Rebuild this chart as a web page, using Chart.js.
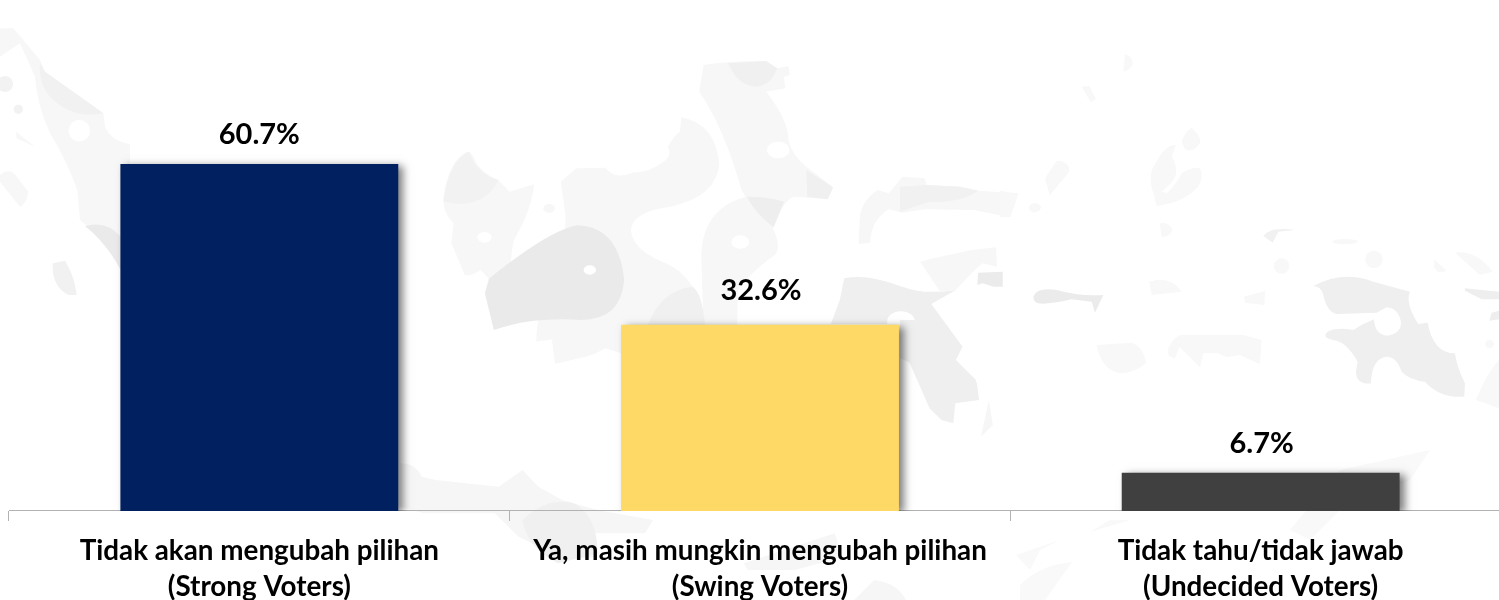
<!DOCTYPE html>
<html>
<head>
<meta charset="utf-8">
<style>
  html, body { margin: 0; padding: 0; background: #fff; overflow: hidden; }
  #wrap { position: relative; width: 1499px; height: 600px; overflow: hidden; }
  #map { position: absolute; left: 0; top: 0; }
  #chart { position: absolute; left: 0; top: 0; }
</style>
<script src="https://cdn.jsdelivr.net/npm/chart.js@4"></script>
</head>
<body>
<div id="wrap">
  <!-- faint map watermark behind the chart -->
  <svg id="map" width="1499" height="600" viewBox="0 0 1499 600">
    <g transform="scale(.3333)" fill="#f7f7f7">
      <path d="M0 85 L40 85 L120 180 L135 215 L310 340 L315 380 Q335 425 390 432 L390 900 L362 800 Q320 720 240 660 L232 570 Q200 480 150 400 Q110 310 105 230 L60 130 Q30 150 0 170 Z"/>
      <path d="M120 190 L135 215 L310 340 Q220 360 150 290 Q115 250 120 190 Z" fill="#f1f1f1"/>
      <path d="M255 678 Q320 660 362 710 L362 810 Q320 730 255 678 Z" fill="#eaeaea"/>
      <circle cx="15" cy="252" r="24" fill="#f2f2f2"/><circle cx="55" cy="328" r="14" fill="#f2f2f2"/>
      <circle cx="238" cy="392" r="32" fill="#fff"/>
      <path d="M48 395 L105 440 L50 415 Z"/>
      <path d="M0 525 Q30 500 50 530 L85 575 Q80 610 60 620 L0 545 Z"/>
      <path d="M158 790 L195 782 Q225 830 230 885 L205 885 Q155 860 158 790 Z" fill="#f1f1f1"/>
    </g>
    <g transform="translate(380 0) scale(.4464 .3333)" fill="#f7f7f7">
      <path d="M195 455 Q210 460 215 490 Q235 525 265 540 L290 575 L345 553 Q340 630 300 720 Q285 800 305 890 Q290 940 245 925 L235 880 L243 835 L225 810 Q205 830 190 825 L160 730 L165 670 Q140 640 142 590 Q155 480 195 455 Z"/>
      <path d="M200 455 Q215 520 265 540 Q240 610 180 612 L142 605 Q155 480 200 455 Z" fill="#f2f2f2"/>
      <path d="M440 505 L505 503 Q525 540 565 518 Q610 515 635 485 Q655 470 645 440 Q660 405 672 395 L675 352 Q750 370 760 490 Q755 590 650 620 Q565 635 562 690 Q565 750 640 790 Q700 825 722 930 L730 1020 L540 1060 L505 1045 L480 1062 L460 1070 L392 1092 L385 1018 L350 1025 Q350 950 380 850 Q420 720 415 640 L405 545 Z"/>
      <path d="M442 676 Q535 680 547 840 Q540 960 450 960 Q340 950 255 990 L235 880 L245 835 Q380 690 442 676 Z" fill="#eaeaea"/>
      <path d="M725 195 Q780 183 865 183 L890 205 L915 198 L918 225 L905 230 L908 265 L865 275 Q915 360 915 420 Q925 470 955 500 L1015 562 L1003 598 L930 590 Q905 595 880 680 Q830 620 810 570 Q770 380 715 275 Z"/>
      <path d="M780 190 L865 183 L890 205 Q875 260 840 260 Q800 255 780 190 Z" fill="#f0f0f0"/>
      <path d="M955 510 L1015 562 L1003 598 L957 590 Z" fill="#f0f0f0"/>
      <path d="M840 585 Q880 590 905 605 Q880 650 880 685 Q900 740 885 765 Q835 810 802 870 L800 975 L725 975 Q720 800 720 760 Q725 610 840 585 Z"/>
      <path d="M822 590 Q870 590 905 605 L882 682 Q840 640 822 590 Z" fill="#eeeeee"/>
      <path d="M600 975 Q630 870 700 860 Q722 880 728 975 Z" fill="#f0f0f0"/>
      <path d="M1040 835 Q1090 820 1170 860 Q1220 885 1290 870 L1235 912 L1305 1040 L1290 1080 L1335 1140 L1340 1200 L1225 1200 L1220 1145 L1190 1090 L1165 1075 L1165 972 L1010 972 L1030 900 Z" fill="#efefef"/>
      <path d="M1115 570 L1140 580 L1170 530 L1220 535 L1225 555 L1300 560 L1340 572 L1430 580 L1412 652 L1330 630 L1220 628 L1170 638 L1140 628 Q1100 660 1098 728 L1072 732 L1075 650 Q1080 600 1115 570 Z"/>
      <path d="M1225 555 L1300 560 L1340 572 Q1300 610 1230 605 L1165 635 L1165 560 Z" fill="#f1f1f1"/>
      <path d="M1210 785 L1240 775 L1325 750 L1380 742 L1382 800 L1350 790 Q1330 810 1290 870 L1255 875 Z"/>
      <path d="M1340 818 L1395 815 L1395 860 L1375 860 L1350 850 L1338 855 Z" fill="#ebebeb"/>
      <path d="M1500 530 L1520 482 Q1545 490 1540 520 L1500 585 L1490 535 Z"/>
      <circle cx="234" cy="712" r="16" fill="#fff"/><circle cx="470" cy="810" r="14" fill="#fff"/>
      <circle cx="668" cy="688" r="17" fill="#fff"/><circle cx="892" cy="450" r="25" fill="#fff"/>
      <circle cx="807" cy="726" r="20" fill="#fff"/><circle cx="1167" cy="965" r="31" fill="#fff"/>
      <circle cx="379" cy="625" r="13"/><circle cx="1467" cy="623" r="13"/>
    </g>
    <g transform="translate(1000 30) scale(.3333)" fill="#f8f8f8">
      <path d="M370 125 L375 72 Q400 80 398 105 Q390 120 370 125 Z"/>
      <path d="M245 170 L268 168 L288 208 L272 216 Z"/>
      <path d="M545 335 Q555 305 575 293 Q605 320 600 340 Q580 370 555 358 Z"/>
      <path d="M470 528 L460 490 Q440 430 470 395 Q495 345 528 345 L515 380 Q540 420 520 450 Q505 470 485 485 L500 490 Q525 470 545 430 Q575 410 600 415 Q615 445 590 475 Q545 520 470 528 Z"/>
      <path d="M138 440 L170 392 Q210 395 208 425 L150 495 Z"/>
      <path d="M0 482 L55 492 L30 560 L0 562 Z"/>
      <path d="M90 530 Q105 510 125 530 L100 550 Z"/>
      <path d="M480 580 Q510 575 517 600 Q510 622 485 620 Z"/>
      <path d="M100 800 Q110 770 170 780 Q240 800 310 795 L285 848 L275 815 L215 808 Q140 825 115 820 Q100 815 100 800 Z" fill="#ebebeb"/>
      <path d="M448 755 Q510 735 545 785 L455 795 Z"/>
      <path d="M732 800 L795 783 L793 825 L735 818 Z"/>
      <path d="M790 618 Q810 590 885 600 L835 605 L818 638 Z" fill="#f1f1f1"/>
      <ellipse cx="1035" cy="635" rx="38" ry="8"/>
      <circle cx="845" cy="708" r="23"/><circle cx="1122" cy="688" r="26"/><circle cx="1469" cy="942" r="13"/>
      <path d="M1303 688 L1340 722 Q1310 735 1302 710 Z"/>
      <path d="M1365 668 Q1430 660 1478 725 L1440 735 Z"/>
      <path d="M290 945 L395 938 Q430 950 438 1000 Q400 1030 360 1030 Q305 1020 290 945 Z"/>
      <path d="M540 915 L730 915 L785 930 L780 1003 L720 975 L680 982 L650 968 L610 970 L600 1012 L538 950 L525 985 Q500 985 505 955 Q520 925 540 915 Z"/>
      <path d="M940 768 Q1030 720 1120 755 L1230 785 Q1215 820 1255 882 L1283 878 Q1300 970 1365 970 Q1370 1010 1395 1060 L1393 1100 Q1320 1105 1275 1055 Q1230 1050 1205 1025 Q1190 980 1160 980 Q1115 985 1113 1060 Q1070 1065 1068 1025 L1073 995 Q1040 935 1000 930 Q970 925 978 910 Q1000 890 1060 900 Q1090 880 1122 868 Q1125 915 1162 917 Q1205 910 1203 875 Q1195 835 1160 832 L1130 848 L1010 852 Q980 845 970 795 Q965 770 940 768 Z" fill="#efefef"/>
      <path d="M1395 775 L1497 785 L1497 808 L1445 808 L1395 782 Z" fill="#eeeeee"/>
      <path d="M1475 848 L1497 842 L1497 868 L1468 872 Z" fill="#eeeeee"/>
      <path d="M1428 1110 Q1460 1030 1497 990 L1497 1135 Z"/>
    </g>
    <!-- lower part, under the yellow bar and the labels -->
    <g transform="translate(400 320) scale(.3952 .3333)" fill="#f6f6f6">
      <path d="M1090 0 L1300 0 L1420 75 L1405 120 L1460 190 L1465 240 L1405 250 L1400 310 L1370 300 L1340 265 L1290 130 L1265 80 L1265 0 Z" fill="#efefef"/>
      <path d="M1490 240 L1470 350 L1500 315 Z"/>
      <path d="M0 560 L0 430 Q40 430 55 470 L90 480 L250 500 L310 450 L350 500 L410 540 L500 570 L640 600 L620 640 L480 640 L500 710 L420 720 L300 650 L240 580 L60 580 Z"/>
      <path d="M310 600 Q370 530 440 550 Q500 590 500 700 L400 730 Q320 680 310 600 Z" fill="#f0f0f0"/>
      <path d="M870 730 L1100 640 L1120 710 L1000 750 L880 750 Z"/>
      <path d="M1200 780 Q1260 790 1280 840 L1150 840 Z"/>
    </g>
    <g fill="#f9f9f9">
      <path d="M1016 555 L1060 540 L1040 550 L1030 570 Z"/>
      <path d="M1020 585 Q1040 565 1072 562 L1045 600 L1020 600 Z"/>
      <path d="M1090 532 L1130 520 L1110 520 Z"/>
      <path d="M1290 530 L1340 470 L1430 450 L1410 480 L1340 510 L1310 540 Z"/>
    </g>
  </svg>
  <canvas id="chart" width="1530" height="617"></canvas>
</div>
<script>
const categories = [
  ['Tidak akan mengubah pilihan', '(Strong Voters)'],
  ['Ya, masih mungkin mengubah pilihan', '(Swing Voters)'],
  ['Tidak tahu/tidak jawab', '(Undecided Voters)'],
];
const values = [60.7, 32.6, 6.7];
const barColors = ['#002060', '#FFD966', '#404040'];

// soft shadow to the lower right of the bars
const barShadow = {
  id: 'barShadow',
  beforeDatasetsDraw(chart) {
    const c = chart.ctx;
    c.save();
    c.shadowColor = 'rgba(0,0,0,0.5)';
    c.shadowBlur = 8;
    c.shadowOffsetX = 5;
    c.shadowOffsetY = 2;
  },
  afterDatasetsDraw(chart) {
    chart.ctx.restore();
  },
};

// percent label above each bar
const valueLabels = {
  id: 'valueLabels',
  afterDatasetsDraw(chart) {
    const c = chart.ctx;
    c.save();
    c.font = 'bold 29px Lato';
    c.fillStyle = '#000';
    c.textAlign = 'center';
    c.textBaseline = 'alphabetic';
    chart.getDatasetMeta(0).data.forEach((bar, i) => {
      // the middle label sits a little higher in the original
      const gap = i === 1 ? 25 : 20;
      c.fillText(values[i].toFixed(1) + '%', bar.x + (i ? 1 : 0), bar.y - gap);
    });
    c.restore();
  },
};

new Chart(document.getElementById('chart'), {
  type: 'bar',
  data: {
    labels: categories,
    datasets: [{
      data: values,
      backgroundColor: barColors,
      barPercentage: 1,
      categoryPercentage: 0.555,
    }],
  },
  options: {
    responsive: false,
    animation: false,
    layout: { padding: { left: 9, right: 19, top: 40, bottom: 0 } },
    plugins: { legend: { display: false }, tooltip: { enabled: false } },
    scales: {
      y: { display: false, min: 0, max: 82.4 },
      x: {
        border: { display: true, color: '#b2b2b2', width: 1 },
        grid: {
          drawOnChartArea: false,
          drawTicks: true,
          tickLength: 10,
          color: '#b2b2b2',
        },
        ticks: {
          autoSkip: false,
          maxRotation: 0,
          minRotation: 0,
          color: '#000',
          padding: 12,
          font: { family: 'Lato', weight: 'bold', size: 27.8, lineHeight: 1.295 },
        },
      },
    },
  },
  plugins: [barShadow, valueLabels],
});
</script>
</body>
</html>
